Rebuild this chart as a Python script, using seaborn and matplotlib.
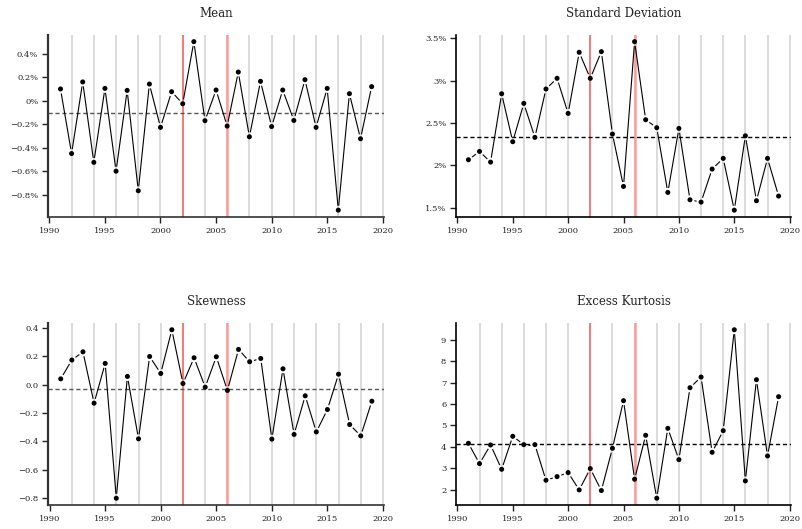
import numpy as np
import pandas as pd
import matplotlib
matplotlib.use("Agg")
import matplotlib.pyplot as plt
import seaborn as sns
from matplotlib.collections import LineCollection
from matplotlib.ticker import FuncFormatter, MultipleLocator

# yearly statistics (mean and sd in percent)
years = list(range(1991, 2020))
mean_vals = [0.10, -0.45, 0.16, -0.525, 0.105, -0.60, 0.088, -0.767, 0.142, -0.227,
             0.077, -0.026, 0.503, -0.17, 0.091, -0.216, 0.244, -0.307, 0.165, -0.22,
             0.091, -0.168, 0.179, -0.227, 0.105, -0.932, 0.06, -0.324, 0.12]
sd_vals = [2.067, 2.165, 2.039, 2.846, 2.280, 2.732, 2.331, 2.902, 3.028, 2.614,
           3.335, 3.028, 3.343, 2.370, 1.752, 3.461, 2.539, 2.445, 1.681, 2.437,
           1.594, 1.567, 1.957, 2.083, 1.472, 2.350, 1.583, 2.083, 1.638]
skew_vals = [0.042, 0.175, 0.233, -0.130, 0.151, -0.802, 0.059, -0.382, 0.200, 0.080,
             0.389, 0.009, 0.191, -0.017, 0.198, -0.040, 0.250, 0.163, 0.186, -0.384,
             0.113, -0.351, -0.078, -0.333, -0.175, 0.075, -0.281, -0.361, -0.116]
kurt_vals = [4.163, 3.215, 4.086, 2.950, 4.49, 4.10, 4.10, 2.437, 2.608, 2.795,
             1.986, 2.981, 1.955, 3.93, 6.154, 2.484, 4.537, 1.597, 4.863, 3.40,
             6.759, 7.258, 3.743, 4.754, 9.467, 2.406, 7.134, 3.572, 6.341]
titles = ["Mean", "Standard Deviation", "Skewness", "Excess Kurtosis"]
grid_years = list(range(1992, 2021, 2))
break_years = [2002, 2006]

df = pd.DataFrame({"year": years, "Mean": mean_vals, "Standard Deviation": sd_vals,
                   "Skewness": skew_vals, "Excess Kurtosis": kurt_vals})

sns.set_theme(style="ticks")
plt.rcParams["font.family"] = ["DejaVu Serif"]

fig = plt.figure(figsize=(8.02, 5.29), dpi=100)
rects = [[0.0599, 0.590, 0.419, 0.344], [0.5686, 0.590, 0.4177, 0.344],
         [0.0602, 0.0454, 0.419, 0.344], [0.5686, 0.0454, 0.4177, 0.344]]


def pad_lim(v):
    lo, hi = min(v), max(v)
    r = hi - lo
    return lo - 0.04 * r, hi + 0.04 * r


def gapped_line(ax, x, y, gap=4.5, **kw):
    # R-style type="b": segments stop short of the points
    pts = ax.transData.transform(np.column_stack([x, y]))
    segs = []
    for p0, p1 in zip(pts[:-1], pts[1:]):
        d = p1 - p0
        L = np.hypot(*d)
        if L <= 2 * gap:
            continue
        u = d / L
        segs.append(np.array([p0 + u * gap, p1 - u * gap]))
    inv = ax.transData.inverted()
    segs = [inv.transform(s) for s in segs]
    ax.add_collection(LineCollection(segs, **kw), autolim=False)


def pct(v, pos):
    return f"{v:g}%".replace("-", "\u2212")


def one_dec(v, pos):
    return f"{v:.1f}".replace("-", "\u2212")


fmts = [FuncFormatter(pct), FuncFormatter(pct), FuncFormatter(one_dec), None]
steps = [0.2, 0.5, 0.2, 1]

for i, name in enumerate(titles):
    ax = fig.add_axes(rects[i])
    vals = df[name].values
    left = i % 2 == 0
    spine_col = "#333333" if left else "#000000"
    mean_col = "#555555" if left else "#000000"

    sns.scatterplot(data=df, x="year", y=name, ax=ax, color="black", s=13,
                    edgecolor="none", zorder=5)
    ax.set_xlim(pad_lim(years))
    ax.set_ylim(pad_lim(vals))
    ax.set_autoscale_on(False)

    for g in grid_years:
        ax.axvline(g, color="#dcdcdc", lw=1.4, zorder=1)
    ax.axvline(break_years[0], color="#ff6060", lw=1.1, zorder=2)
    ax.axvline(break_years[1], color="#ff9a9a", lw=1.8, zorder=2)

    ax.axhline(np.mean(vals), color=mean_col, lw=1.0, ls=(0, (3, 2)), zorder=3)

    gapped_line(ax, years, vals, color="black", lw=0.8, zorder=4)

    ax.set_title(name, fontsize=8.5, pad=13, color="#222222")
    ax.set_xlabel("")
    ax.set_ylabel("")
    ax.set_xticks(range(1990, 2021, 5))
    ax.yaxis.set_major_locator(MultipleLocator(steps[i]))
    if fmts[i] is not None:
        ax.yaxis.set_major_formatter(fmts[i])
    ax.tick_params(labelsize=6, length=4, width=1, pad=3, colors="#222222")

    sns.despine(ax=ax)
    for s in ["left", "bottom"]:
        ax.spines[s].set_color(spine_col)
    ax.spines["left"].set_linewidth(1.6 if left else 1.2)
    ax.spines["bottom"].set_linewidth(1.2)

fig.savefig("out.png", dpi=100)
